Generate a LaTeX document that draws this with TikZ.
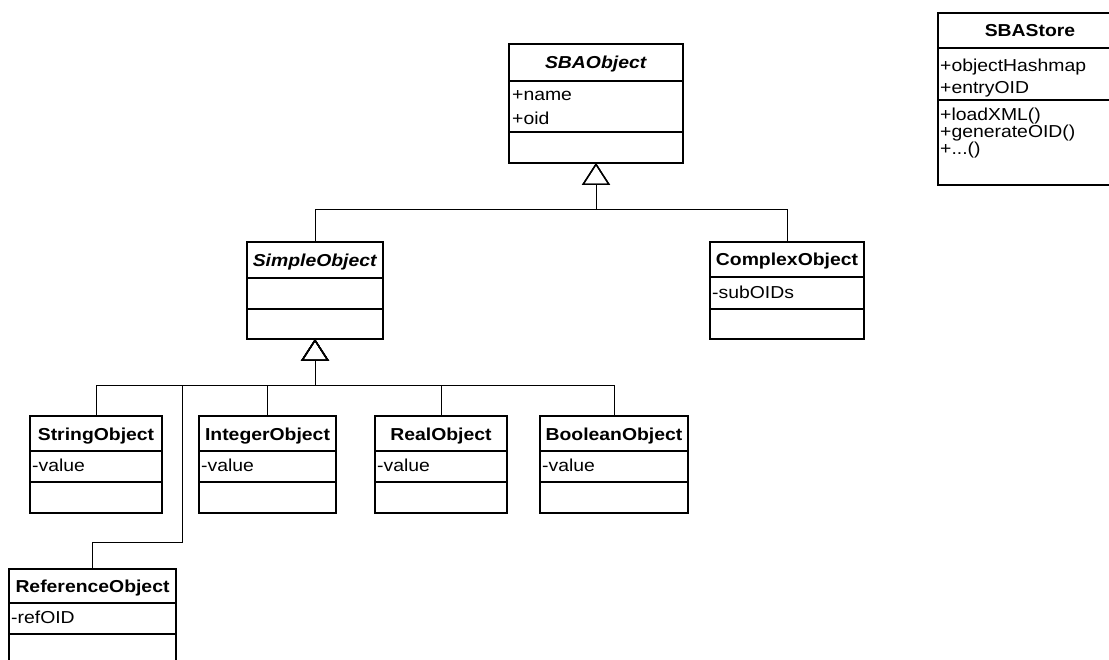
\documentclass[tikz,border=0pt]{standalone}
\usepackage{fontspec}
\setmainfont{Liberation Sans}[FakeStretch=1.12]
\usetikzlibrary{arrows.meta}

\newcommand{\umlfont}{\fontsize{17.3}{20}\selectfont}

\tikzset{
  classhead/.style={draw, line width=1.4pt, inner sep=0pt, outer sep=0pt, font={\umlfont\bfseries}, text height=13pt, text depth=0pt, anchor=north west},
  classpart/.style={draw, line width=1.4pt, inner sep=0pt, outer sep=0pt, anchor=north},
  member/.style={inner sep=0pt, font=\umlfont, anchor=base west},
  gen/.style={line width=0.9pt, -{Triangle[open, length=22pt, width=28pt, line width=1.4pt]}}
}

\begin{document}
\begin{tikzpicture}[x=1pt, y=-1pt]

        % Page frame
        \fill[white] (0,0) rectangle (1109,660);
        \useasboundingbox (0,0) rectangle (1109,660);

        % SBAObject (abstract)
        \node[classhead, minimum width=174, minimum height=37] (sbaobj) at (509,44) {\textit{SBAObject}};
        \node[classpart, minimum width=174, minimum height=51] (sbaobj-attr) at (sbaobj.south) {};
        \node[classpart, minimum width=174, minimum height=31] (sbaobj-ops) at (sbaobj-attr.south) {};
        \node[member] (sbaobj-name) at (512,100.5) {+name};
        \node[member] (sbaobj-oid) at (512,124.5) {+oid};

        % SBAStore (runs past the right edge)
        \node[classhead, minimum width=184, minimum height=35] (store) at (938,13) {SBAStore};
        \node[classpart, minimum width=184, minimum height=52] (store-attr) at (store.south) {};
        \node[classpart, minimum width=184, minimum height=85] (store-ops) at (store-attr.south) {};
        \node[member] (store-map) at (940,71.5) {+objectHashmap};
        \node[member] (store-entry) at (940,93.5) {+entryOID};
        \node[member] (store-load) at (940,121) {+loadXML()};
        \node[member] (store-gen) at (940,138) {+generateOID()};
        \node[member] (store-more) at (940,155) {+...()};

        % SimpleObject (abstract)
        \node[classhead, minimum width=136, minimum height=36] (simpleobj) at (247,242) {\textit{SimpleObject}};
        \node[classpart, minimum width=136, minimum height=31] (simpleobj-attr) at (simpleobj.south) {};
        \node[classpart, minimum width=136, minimum height=30] (simpleobj-ops) at (simpleobj-attr.south) {};

        % ComplexObject
        \node[classhead, minimum width=154, minimum height=35] (complexobj) at (710,242) {ComplexObject};
        \node[classpart, minimum width=154, minimum height=32] (complexobj-attr) at (complexobj.south) {};
        \node[classpart, minimum width=154, minimum height=30] (complexobj-ops) at (complexobj-attr.south) {};
        \node[member] (complexobj-sub) at (712,298.5) {-subOIDs};

        % StringObject
        \node[classhead, minimum width=132, minimum height=35] (strobj) at (30,416) {StringObject};
        \node[classpart, minimum width=132, minimum height=31] (strobj-attr) at (strobj.south) {};
        \node[classpart, minimum width=132, minimum height=31] (strobj-ops) at (strobj-attr.south) {};
        \node[member] (strobj-val) at (32,471.5) {-value};

        % IntegerObject
        \node[classhead, minimum width=137, minimum height=35] (intobj) at (199,416) {IntegerObject};
        \node[classpart, minimum width=137, minimum height=31] (intobj-attr) at (intobj.south) {};
        \node[classpart, minimum width=137, minimum height=31] (intobj-ops) at (intobj-attr.south) {};
        \node[member] (intobj-val) at (201,471.5) {-value};

        % RealObject
        \node[classhead, minimum width=132, minimum height=35] (realobj) at (375,416) {RealObject};
        \node[classpart, minimum width=132, minimum height=31] (realobj-attr) at (realobj.south) {};
        \node[classpart, minimum width=132, minimum height=31] (realobj-ops) at (realobj-attr.south) {};
        \node[member] (realobj-val) at (377,471.5) {-value};

        % BooleanObject
        \node[classhead, minimum width=148, minimum height=35] (boolobj) at (540,416) {BooleanObject};
        \node[classpart, minimum width=148, minimum height=31] (boolobj-attr) at (boolobj.south) {};
        \node[classpart, minimum width=148, minimum height=31] (boolobj-ops) at (boolobj-attr.south) {};
        \node[member] (boolobj-val) at (542,471.5) {-value};

        % ReferenceObject (runs past the bottom edge)
        \node[classhead, minimum width=167, minimum height=34] (refobj) at (9,569) {ReferenceObject};
        \node[classpart, minimum width=167, minimum height=31] (refobj-attr) at (refobj.south) {};
        \node[classpart, minimum width=167, minimum height=31] (refobj-ops) at (refobj-attr.south) {};
        \node[member] (refobj-ref) at (11,623.5) {-refOID};

        % Generalisation to SBAObject
        \coordinate (sba-j) at (596,209);
        \draw[gen] (simpleobj.north) |- (sba-j) -- (sbaobj-ops.south);
        \draw[gen] (complexobj.north) |- (sba-j) -- (sbaobj-ops.south);

        % Generalisation to SimpleObject
        \coordinate (simple-j) at (315,385);
        \coordinate (ref-bend) at (182,542);
        \draw[gen] (strobj.north) |- (simple-j) -- (simpleobj-ops.south);
        \draw[gen] (intobj.north) |- (simple-j) -- (simpleobj-ops.south);
        \draw[gen] (realobj.north) |- (simple-j) -- (simpleobj-ops.south);
        \draw[gen] (boolobj.north) |- (simple-j) -- (simpleobj-ops.south);
        \draw[gen] (refobj.north) |- (ref-bend) |- (simple-j) -- (simpleobj-ops.south);

    \end{tikzpicture}
\end{document}
